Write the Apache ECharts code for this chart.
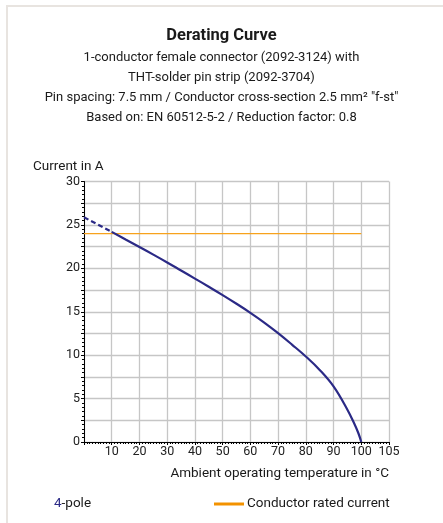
<!DOCTYPE html>
<html>
<head>
<meta charset="utf-8">
<script src="https://cdn.jsdelivr.net/npm/echarts@6/dist/echarts.min.js"></script>
<style>
html,body{margin:0;padding:0;background:#fff;}
#frame{position:absolute;left:6px;top:5px;width:437px;height:518px;border-left:2px solid #e8e4e0;border-top:2px solid #e8e4e0;box-sizing:border-box;}
#main{position:absolute;left:0;top:0;width:443px;height:523px;}
</style>
</head>
<body>
<div id="frame"></div>
<div id="main"></div>
<script>
var FONT = '"Roboto", sans-serif';

var titleText = 'Derating Curve';
var subtitleLines = [
  '1-conductor female connector (2092-3124) with',
  'THT-solder pin strip (2092-3704)',
  'Pin spacing: 7.5 mm / Conductor cross-section 2.5 mm\u00b2 "f-st"',
  'Based on: EN 60512-5-2 / Reduction factor: 0.8'
];
var yAxisTitle = 'Current in A';
var xAxisTitle = 'Ambient operating temperature in \u00b0C';

var xTickLabels = ['', '10', '20', '30', '40', '50', '60', '70', '80', '90', '100', '105'];

// derating curve, 4-pole (dashed part above the rated current)
var tempDashed = [0, 10];
var currentDashed = [25.88, 24.2];
var tempSolid = [10, 15, 20, 25, 30, 35, 40, 45, 50, 55, 60, 65, 70, 75, 80, 85, 90, 95, 97.5, 99, 100];
var currentSolid = [24.2, 23.33, 22.46, 21.58, 20.68, 19.75, 18.82, 17.88, 16.92, 15.92, 14.88, 13.76, 12.54, 11.22, 9.85, 8.3, 6.4, 3.72, 2.1, 0.98, 0];

// conductor rated current
var ratedTemp = [0, 100];
var ratedCurrent = [24, 24];

function zip(a, b) { return a.map(function (v, i) { return [v, b[i]]; }); }

var chart = echarts.init(document.getElementById('main'), null, {renderer: 'canvas'});

var titles = [{
  text: titleText, left: 'center', top: 22, padding: [5, 3, 5, 9],
  textStyle: {fontFamily: FONT, fontSize: 16.5, fontWeight: 'bold', color: '#1a1a1a'}
}];
subtitleLines.forEach(function (t, i) {
  titles.push({
    text: t, left: 'center', top: 46.5 + i * 20, padding: [5, 3, 5, 9],
    textStyle: {fontFamily: FONT, fontSize: 13, fontWeight: 'normal', color: '#1a1a1a'}
  });
});

var NAVY = '#2b2a86';
var ORANGE = '#f7a21c';

chart.setOption({
  animation: false,
  title: titles,
  grid: {left: 84, right: 54, top: 181.5, bottom: 81, containLabel: false},
  xAxis: {
    type: 'value', min: 0, max: 110, interval: 10,
    axisLine: {show: true, lineStyle: {color: '#000', width: 1}},
    axisTick: {show: true, length: 3, lineStyle: {color: '#000'}},
    minorTick: {show: true, splitNumber: 10, length: 2, lineStyle: {color: '#000'}},
    axisLabel: {
      margin: 3, color: '#222', fontFamily: FONT, fontSize: 12.5,
      formatter: function (v) { return xTickLabels[Math.round(v / 10)]; }
    },
    splitLine: {show: true, lineStyle: {color: '#c6c6c6', width: 1.3}}
  },
  yAxis: {
    type: 'value', min: 0, max: 30, interval: 2.5,
    axisLine: {show: true, lineStyle: {color: '#000', width: 1}},
    axisTick: {show: true, length: 3, lineStyle: {color: '#000'}},
    minorTick: {show: true, splitNumber: 5, length: 2, lineStyle: {color: '#000'}},
    axisLabel: {
      margin: 4, color: '#222', fontFamily: FONT, fontSize: 12.5,
      formatter: function (v) { return v % 5 === 0 ? String(v) : ''; }
    },
    splitLine: {show: true, lineStyle: {color: '#c6c6c6', width: 1.3}}
  },
  legend: [{
    left: 49, top: 497, padding: 0, itemWidth: 0, itemHeight: 0, itemGap: 0,
    data: [{name: '4-pole', icon: 'none'}],
    formatter: function (n) { return '{b|4}-pole'; },
    textStyle: {fontFamily: FONT, fontSize: 13.5, color: '#1a1a1a', rich: {b: {color: NAVY, fontFamily: FONT, fontSize: 13.5}}}
  }, {
    left: 214, top: 497, padding: 0, itemWidth: 30, itemHeight: 3, itemGap: 4,
    data: [{name: 'Conductor rated current', icon: 'rect', itemStyle: {color: '#f39200'}}],
    textStyle: {fontFamily: FONT, fontSize: 13.5, color: '#1a1a1a', padding: [0, 0, 0, -2]}
  }],
  graphic: [{
    type: 'text', left: 33, top: 160,
    style: {text: yAxisTitle, font: '13.5px ' + FONT, fill: '#1a1a1a'}
  }, {
    type: 'text', right: 54, top: 467,
    style: {text: xAxisTitle, font: '13.5px ' + FONT, fill: '#1a1a1a', textAlign: 'right'}
  }],
  series: [{
    name: '4-pole', type: 'line', data: zip(tempDashed, currentDashed),
    showSymbol: false, lineStyle: {color: NAVY, width: 2.2, type: [5, 3]}, itemStyle: {color: NAVY}, z: 3
  }, {
    name: '4-pole', type: 'line', data: zip(tempSolid, currentSolid),
    smooth: 0.4, smoothConstraint: false,
    showSymbol: false, lineStyle: {color: NAVY, width: 2.2}, itemStyle: {color: NAVY}, z: 3
  }, {
    name: 'Conductor rated current', type: 'line', data: zip(ratedTemp, ratedCurrent),
    showSymbol: false, lineStyle: {color: ORANGE, width: 1.4}, itemStyle: {color: '#f39200'}, z: 2
  }]
});
</script>
</body>
</html>
